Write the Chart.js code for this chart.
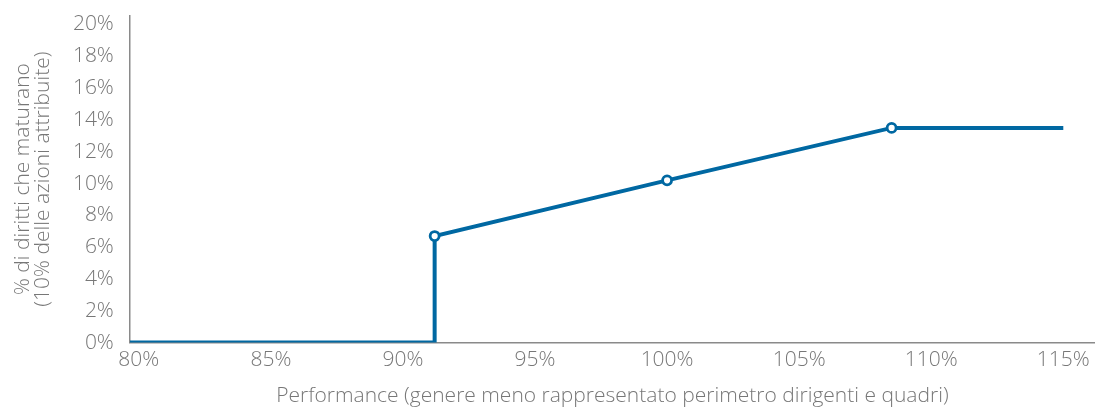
<!DOCTYPE html>
<html>
<head>
<meta charset="utf-8">
<script src="https://cdn.jsdelivr.net/npm/chart.js@4"></script>
<style>
  html, body { margin: 0; padding: 0; background: #fff; overflow: hidden; }
  #wrap { width: 1095px; height: 407px; overflow: hidden; position: relative; }
  #inner { position: absolute; left: 0; top: -13px; width: 1095px; height: 425px; }
</style>
</head>
<body>
<div id="wrap"><div id="inner"><canvas id="chart1"></canvas></div></div>
<script>
// Punti della curva (performance % -> % di diritti)
const performance = [79.66, 91.2, 91.2, 100, 108.5, 115];
const vesting = [0, 0, 6.7, 10.2, 13.5, 13.5];
const markerRadius = [0, 0, 4.5, 4.5, 4.5, 0];
const xTicks = [80, 85, 90, 95, 100, 105, 110, 115];
const yTicks = [0, 2, 4, 6, 8, 10, 12, 14, 16, 18, 20];

const blue = 'rgb(0, 104, 162)';
const grey = '#777777';
const font = { family: "'Open Sans', 'Liberation Sans', sans-serif", size: 21, weight: 300 };

const ctx = document.getElementById('chart1').getContext('2d');

let lineChart = new Chart(ctx, {
  type: 'line',
  data: {
    datasets: [
      {
        label: 'Diritti',
        data: performance.map((x, i) => ({ x: x, y: vesting[i] })),
        borderColor: blue,
        borderWidth: 4,
        backgroundColor: '#ffffff',
        pointRadius: markerRadius,
        pointBorderWidth: 2.8,
        pointBorderColor: blue,
        pointBackgroundColor: '#ffffff',
        tension: 0,
        fill: false
      }
    ]
  },
  options: {
    responsive: true,
    maintainAspectRatio: false,
    animation: false,
    layout: { padding: { left: 13, top: 0, right: 0, bottom: 3 } },
    plugins: { legend: { display: false }, tooltip: { enabled: false } },
    scales: {
      x: {
        type: 'linear',
        min: 79.66,
        max: 116.2,
        afterBuildTicks: axis => { axis.ticks = xTicks.map(v => ({ value: v })); },
        grid: { display: false, drawTicks: false },
        border: { display: true, color: '#8a8a8a', width: 1.5 },
        ticks: { color: grey, font: font, padding: 5, maxRotation: 0, callback: v => v + '%' },
        title: {
          display: true,
          text: 'Performance (genere meno rappresentato perimetro dirigenti e quadri)',
          color: grey,
          font: font,
          padding: { top: 6, bottom: 0 }
        }
      },
      y: {
        min: 0,
        max: 20.56,
        afterBuildTicks: axis => { axis.ticks = yTicks.map(v => ({ value: v })); },
        grid: { display: false, drawTicks: false },
        border: { display: true, color: '#8a8a8a', width: 1.5 },
        ticks: { color: grey, font: font, padding: 16, callback: v => v + '%' },
        title: {
          display: true,
          text: ['% di diritti che maturano', '(10% delle azioni attribuite)'],
          color: grey,
          font: { family: font.family, size: 21, weight: 300, lineHeight: 0.95 },
          padding: { top: 0, bottom: 4 }
        }
      }
    }
  }
});
</script>
</body>
</html>
